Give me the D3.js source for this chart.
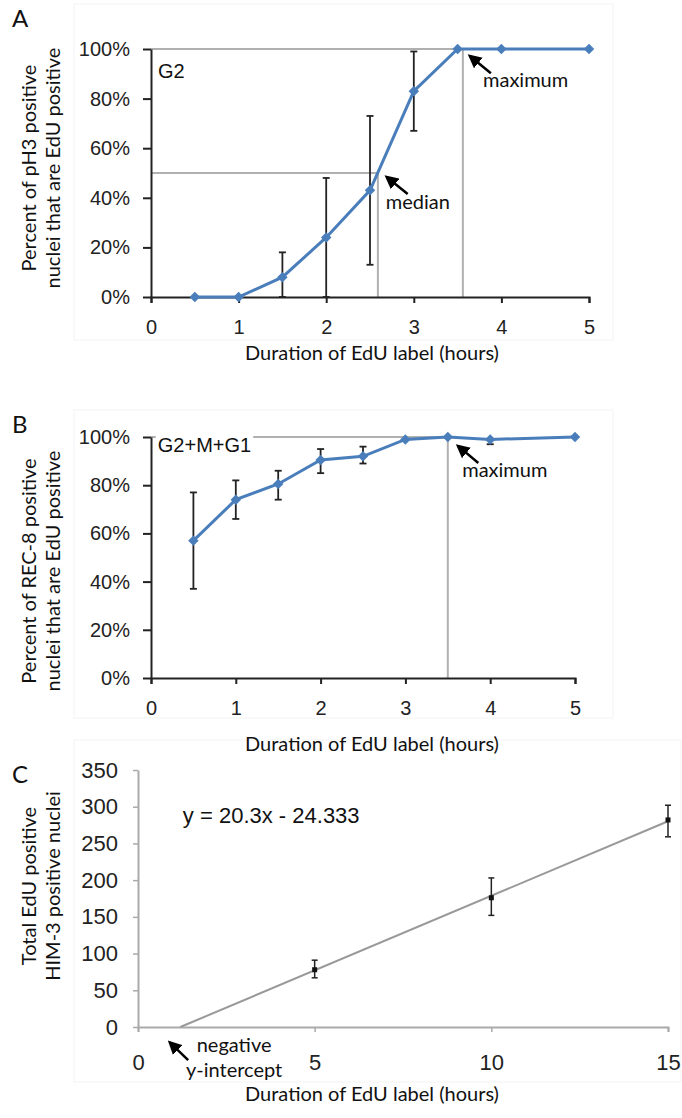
<!DOCTYPE html>
<html>
<head>
<meta charset="utf-8">
<script src="https://cdn.jsdelivr.net/npm/d3@7"></script>
<style>
  body { margin: 0; background: #fff; }
  .tick text { font-family: "Liberation Sans", Arial, sans-serif; fill: #222; }
  .title { font-family: Lato, "Open Sans", sans-serif; fill: #111; }
</style>
</head>
<body>
<script>
// panel A - G2
var hoursA = [0.5, 1, 1.5, 2, 2.5, 3, 3.5, 4, 5];
var pctA   = [0, 0, 8, 24, 43, 83, 100, 100, 100];
var errLoA = [null, null, 0, 0, 13, 67, null, null, null];
var errHiA = [null, null, 18, 48, 73, 99, null, null, null];
var medianA = 2.59, maxA = 3.56;

// panel B - G2+M+G1
var hoursB = [0.5, 1, 1.5, 2, 2.5, 3, 3.5, 4, 5];
var pctB   = [57, 74, 80.5, 90.5, 92, 99, 100, 99, 100];
var errLoB = [37, 66, 74, 85, 89, null, null, 97, null];
var errHiB = [77, 82, 86, 95, 96, null, null, 99, null];
var maxB = 3.5;

// panel C - HIM-3
var hoursC = [5, 10, 15];
var totalC = [78, 176, 282];
var errLoC = [67, 152, 259];
var errHiC = [91, 203, 302];
var slope = 20.3, intercept = -24.333;

var pctTicks = [0, 20, 40, 60, 80, 100];
var hourTicks = [0, 1, 2, 3, 4, 5];
var countTicks = [0, 50, 100, 150, 200, 250, 300, 350];
var hourTicksC = [0, 5, 10, 15];

var blue = "#4a7ebb";
var refGray = "#b0b0b0";
var titleSize = 20;

var svg = d3.select("body").append("svg")
    .attr("width", 682)
    .attr("height", 1118);

svg.append("defs").append("marker")
    .attr("id", "arrow")
    .attr("viewBox", "0 0 10 10")
    .attr("refX", 8).attr("refY", 5)
    .attr("markerWidth", 5.5).attr("markerHeight", 5.5)
    .attr("orient", "auto")
  .append("path")
    .attr("d", "M0,0 L10,5 L0,10 z")
    .attr("fill", "#000");

// faint panel frames
[[74, 4, 539, 336], [74, 410, 539, 308], [74, 740, 607, 342]].forEach(function(r) {
    svg.append("rect")
        .attr("x", r[0]).attr("y", r[1])
        .attr("width", r[2]).attr("height", r[3])
        .attr("fill", "none").attr("stroke", "#f3f3f3");
});

function arrow(x, y, x1, y1, x2, y2) {
    svg.append("line")
        .attr("x1", x(x1)).attr("y1", y(y1))
        .attr("x2", x(x2)).attr("y2", y(y2))
        .attr("stroke", "#000").attr("stroke-width", 2.5)
        .attr("marker-end", "url(#arrow)");
}

function note(x, y, px, py, txt, size, family, bg) {
    var t = svg.append("text")
        .attr("x", x(px)).attr("y", y(py))
        .attr("font-family", family || "Lato, sans-serif")
        .attr("font-size", size)
        .attr("fill", "#111")
        .text(txt);
    if (bg) {
        var bb = t.node().getBBox();
        svg.insert("rect", function() { return t.node(); })
            .attr("x", bb.x - 2).attr("y", bb.y)
            .attr("width", bb.width + 4).attr("height", bb.height)
            .attr("fill", "#fff");
    }
}

function yTitle(lines, cx, cy) {
    lines.forEach(function(t, i) {
        svg.append("text")
            .attr("class", "title")
            .attr("font-size", titleSize)
            .attr("text-anchor", "middle")
            .attr("transform", "translate(" + (cx + i * 24) + "," + cy + ") rotate(-90)")
            .text(t);
    });
}

function xTitle(yPos) {
    svg.append("text")
        .attr("class", "title")
        .attr("font-size", titleSize)
        .attr("text-anchor", "middle")
        .attr("x", 372).attr("y", yPos)
        .text("Duration of EdU label (hours)");
}

function percentPanel(opt) {
    var x = d3.scaleLinear().domain([0, 5]).range([151, opt.xEnd]);
    var y = d3.scaleLinear().domain([0, 100]).range([opt.y0, opt.y100]);

    // reference lines
    opt.refs.forEach(function(r) {
        svg.append("line")
            .attr("x1", x(0)).attr("x2", x(r[0]))
            .attr("y1", y(r[1])).attr("y2", y(r[1]))
            .attr("stroke", refGray).attr("stroke-width", 2);
        svg.append("line")
            .attr("x1", x(r[0])).attr("x2", x(r[0]))
            .attr("y1", y(r[1])).attr("y2", y(0))
            .attr("stroke", refGray).attr("stroke-width", 2);
    });

    var gx = svg.append("g")
        .attr("transform", "translate(0," + y(0) + ")")
        .call(d3.axisBottom(x).tickValues(hourTicks).tickFormat(d3.format("d"))
              .tickSize(6).tickPadding(17).tickSizeOuter(6));
    var gy = svg.append("g")
        .attr("transform", "translate(" + x(0) + ",0)")
        .call(d3.axisLeft(y).tickValues(pctTicks).tickFormat(function(d) { return d + "%"; })
              .tickSize(8).tickPadding(13).tickSizeOuter(0));
    [gx, gy].forEach(function(g) {
        g.select(".domain").attr("stroke", "#222").attr("stroke-width", 2);
        g.selectAll(".tick line").attr("stroke", "#222").attr("stroke-width", 2);
        g.selectAll(".tick text").attr("font-size", 20);
    });

    var pts = opt.hours.map(function(h, i) {
        return { h: h, v: opt.pct[i], lo: opt.lo[i], hi: opt.hi[i] };
    });

    // error bars
    var eb = svg.append("g").selectAll("g")
        .data(pts.filter(function(d) { return d.lo !== null; }))
        .enter().append("g")
        .attr("stroke", "#222").attr("stroke-width", 1.8);
    eb.append("line")
        .attr("x1", function(d) { return x(d.h); }).attr("x2", function(d) { return x(d.h); })
        .attr("y1", function(d) { return y(d.lo); }).attr("y2", function(d) { return y(d.hi); });
    eb.append("line")
        .attr("x1", function(d) { return x(d.h) - 3.5; }).attr("x2", function(d) { return x(d.h) + 3.5; })
        .attr("y1", function(d) { return y(d.hi); }).attr("y2", function(d) { return y(d.hi); });
    eb.append("line")
        .attr("x1", function(d) { return x(d.h) - 3.5; }).attr("x2", function(d) { return x(d.h) + 3.5; })
        .attr("y1", function(d) { return y(d.lo); }).attr("y2", function(d) { return y(d.lo); });

    var line = d3.line()
        .x(function(d) { return x(d.h); })
        .y(function(d) { return y(d.v); });
    svg.append("path")
        .datum(pts)
        .attr("d", line)
        .attr("fill", "none")
        .attr("stroke", blue)
        .attr("stroke-width", 3);

    svg.append("g").selectAll("path")
        .data(pts)
        .enter().append("path")
        .attr("d", d3.symbol(d3.symbolSquare, 55))
        .attr("transform", function(d) { return "translate(" + x(d.h) + "," + y(d.v) + ") rotate(45)"; })
        .attr("fill", blue);

    xTitle(opt.xTitleY);
    return { x: x, y: y };
}

// ---- A ----
var a = percentPanel({
    hours: hoursA, pct: pctA, lo: errLoA, hi: errHiA,
    xEnd: 589, y0: 297, y100: 49,
    refs: [[maxA, 100], [medianA, 50]],
    xTitleY: 360
});
note(a.x, a.y, 0.08, 88.3, "G2", 20, "Liberation Sans, Arial, sans-serif");
note(a.x, a.y, 3.79, 84.7, "maximum", titleSize);
arrow(a.x, a.y, 3.88, 90.2, 3.64, 97.2);
note(a.x, a.y, 2.68, 35.5, "median", titleSize);
arrow(a.x, a.y, 2.93, 41.5, 2.69, 48.4);
yTitle(["Percent of pH3 positive", "nuclei that are EdU positive"], 36, 168);

// ---- B ----
var b = percentPanel({
    hours: hoursB, pct: pctB, lo: errLoB, hi: errHiB,
    xEnd: 575, y0: 678, y100: 437,
    refs: [[maxB, 100]],
    xTitleY: 751
});
note(b.x, b.y, 0.08, 93.8, "G2+M+G1", 20, "Liberation Sans, Arial, sans-serif", true);
note(b.x, b.y, 3.67, 83.4, "maximum", titleSize);
arrow(b.x, b.y, 3.86, 89.2, 3.62, 96.3);
yTitle(["Percent of REC-8 positive", "nuclei that are EdU positive"], 36, 571);

// ---- C ----
var xc = d3.scaleLinear().domain([0, 15]).range([138, 668]);
var yc = d3.scaleLinear().domain([0, 350]).range([1027, 770]);

var gxc = svg.append("g")
    .attr("transform", "translate(0," + yc(0) + ")")
    .call(d3.axisBottom(xc).tickValues(hourTicksC).tickSize(5).tickPadding(22).tickSizeOuter(5));
var gyc = svg.append("g")
    .attr("transform", "translate(" + xc(0) + ",0)")
    .call(d3.axisLeft(yc).tickValues(countTicks).tickSize(5).tickPadding(15).tickSizeOuter(0));
[gxc, gyc].forEach(function(g) {
    g.select(".domain").attr("stroke", "#aaa").attr("stroke-width", 2);
    g.selectAll(".tick line").attr("stroke", "#aaa").attr("stroke-width", 1.5);
    g.selectAll(".tick text").attr("font-size", 22);
});

// regression line from x-intercept to last point
var xStart = -intercept / slope;
svg.append("line")
    .attr("x1", xc(xStart)).attr("y1", yc(0))
    .attr("x2", xc(15)).attr("y2", yc(slope * 15 + intercept))
    .attr("stroke", "#999").attr("stroke-width", 2);

var ptsC = hoursC.map(function(h, i) {
    return { h: h, v: totalC[i], lo: errLoC[i], hi: errHiC[i] };
});
var ebc = svg.append("g").selectAll("g")
    .data(ptsC)
    .enter().append("g")
    .attr("stroke", "#222").attr("stroke-width", 1.5);
ebc.append("line")
    .attr("x1", function(d) { return xc(d.h); }).attr("x2", function(d) { return xc(d.h); })
    .attr("y1", function(d) { return yc(d.lo); }).attr("y2", function(d) { return yc(d.hi); });
ebc.append("line")
    .attr("x1", function(d) { return xc(d.h) - 3; }).attr("x2", function(d) { return xc(d.h) + 3; })
    .attr("y1", function(d) { return yc(d.hi); }).attr("y2", function(d) { return yc(d.hi); });
ebc.append("line")
    .attr("x1", function(d) { return xc(d.h) - 3; }).attr("x2", function(d) { return xc(d.h) + 3; })
    .attr("y1", function(d) { return yc(d.lo); }).attr("y2", function(d) { return yc(d.lo); });
svg.append("g").selectAll("rect")
    .data(ptsC)
    .enter().append("rect")
    .attr("x", function(d) { return xc(d.h) - 2.5; })
    .attr("y", function(d) { return yc(d.v) - 2.5; })
    .attr("width", 5).attr("height", 5)
    .attr("fill", "#111");

note(xc, yc, 1.27, 278, "y = 20.3x - 24.333", 22, "Liberation Sans, Arial, sans-serif");
svg.append("text").attr("class", "title").attr("font-size", titleSize).attr("text-anchor", "middle")
    .attr("x", xc(2.72)).attr("y", yc(-34)).text("negative");
svg.append("text").attr("class", "title").attr("font-size", titleSize).attr("text-anchor", "middle")
    .attr("x", xc(2.72)).attr("y", yc(-68)).text("y-intercept");
arrow(xc, yc, 1.42, -45, 0.9, -21);

xTitle(1101);
yTitle(["Total EdU positive", "HIM-3 positive nuclei"], 36, 886);

// panel letters
[["A", 27], ["B", 433], ["C", 783]].forEach(function(l) {
    svg.append("text")
        .attr("class", "title")
        .attr("font-size", 24)
        .attr("x", 12).attr("y", l[1])
        .text(l[0]);
});
</script>
</body>
</html>
